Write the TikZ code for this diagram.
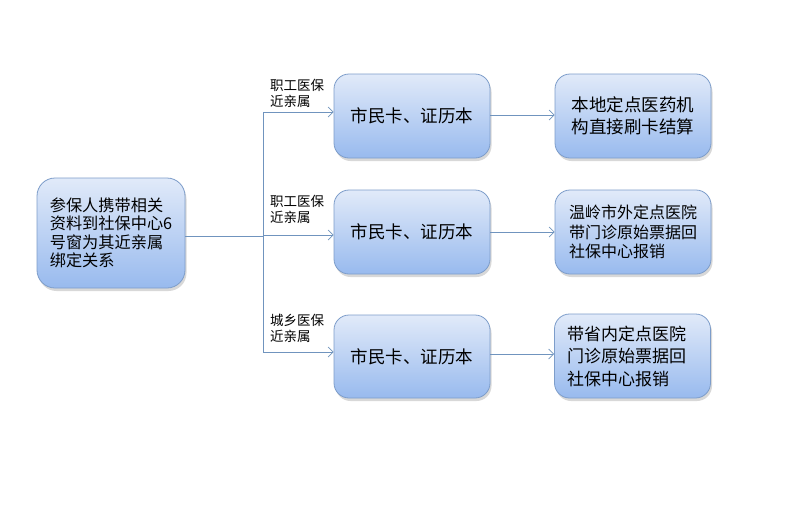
\documentclass[tikz,border=0pt]{standalone}
\usepackage{fontspec}
\setmainfont{Noto Sans CJK SC}
\usetikzlibrary{arrows.meta,shadows}
\definecolor{boxtop}{HTML}{E1EAF9}
\definecolor{boxbot}{HTML}{98BAEE}
\definecolor{boxline}{HTML}{7D9DCA}
\definecolor{connc}{HTML}{7094BE}
\tikzset{
 flowbox/.style={draw=boxline, line width=0.8pt, rounded corners=15pt,
   top color=boxtop, bottom color=boxbot,
   drop shadow={opacity=0.3, shadow xshift=1.5pt, shadow yshift=-3pt, fill=gray},
   minimum width=156pt, minimum height=84pt, inner sep=0pt, align=left},
 connline/.style={draw=connc, line width=0.7pt},
 arr/.style={connline, -{Straight Barb[length=5pt,width=10pt]}},
 lbl/.style={font=\fontsize{13.5}{16}\selectfont, align=left, inner sep=0pt, anchor=north west},
}
\begin{document}
\begin{tikzpicture}[x=1pt,y=-1pt]
\fill[white] (0,0) rectangle (800,507);
\useasboundingbox (0,0) rectangle (800,507);
% left box
\node[flowbox, minimum width=148pt, minimum height=110pt, rounded corners=18pt,
  font=\fontsize{16.2}{18.5}\selectfont] (L) at (111,233)
  {参保人携带相关\\资料到社保中心6\\号窗为其近亲属\\绑定关系};
% middle boxes
\node[flowbox, font=\fontsize{17.5}{21}\selectfont] (m1) at (412,116) {市民卡、证历本};
\node[flowbox, font=\fontsize{17.5}{21}\selectfont] (m2) at (412,232) {市民卡、证历本};
\node[flowbox, minimum height=83pt, font=\fontsize{17.5}{21}\selectfont] (m3) at (412,356.5) {市民卡、证历本};
% right boxes
\node[flowbox, font=\fontsize{17.5}{22}\selectfont] (r1) at (633,116) {本地定点医药机\\构直接刷卡结算};
\node[flowbox, font=\fontsize{16}{19.5}\selectfont] (r2) at (633,232) {温岭市外定点医院\\带门诊原始票据回\\社保中心报销};
\node[flowbox, minimum height=84pt, text width=131pt, font=\fontsize{17}{22.5}\selectfont] (r3) at (632.5,356) {带省内定点医院\\门诊原始票据回\\社保中心报销};
% junction coordinates
\coordinate (j1) at (263,112);
\coordinate (j2) at (263,235);
\coordinate (j3) at (263,352);
\coordinate (jl) at (263,236);
\draw[connline] (j1) -- (j3);
\draw[connline] (L.east |- jl) -- (jl);
\draw[arr] (j1) -- (j1 -| m1.west);
\draw[arr] (j2) -- (j2 -| m2.west);
\draw[arr] (j3) -- (j3 -| m3.west);
\draw[arr] (m1.east |- 0,115) -- (r1.west |- 0,115);
\draw[arr] (m2.east) -- (r2.west);
\draw[arr] (m3.east |- 0,354) -- (r3.west |- 0,354);
% labels
\node[lbl] (t1) at (270,79) {职工医保\\近亲属};
\node[lbl] (t2) at (270,195) {职工医保\\近亲属};
\node[lbl] (t3) at (270,314) {城乡医保\\近亲属};
\end{tikzpicture}
\end{document}
